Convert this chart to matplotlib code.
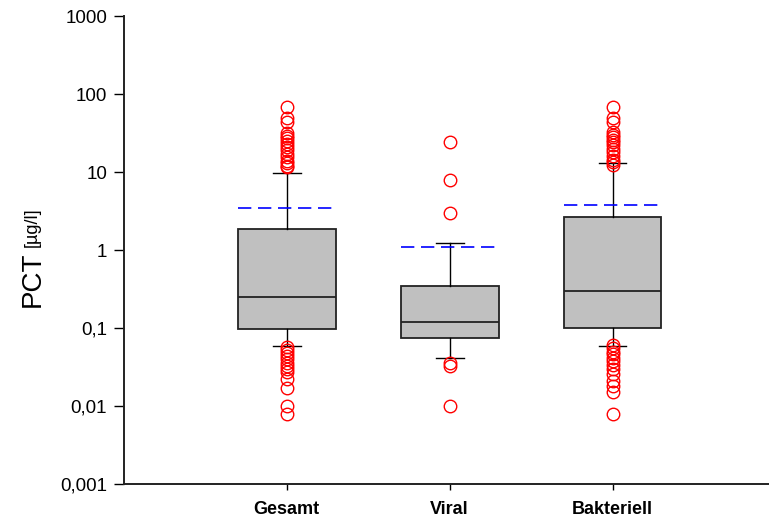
import numpy as np
import matplotlib
matplotlib.use('Agg')
import matplotlib.pyplot as plt

# box statistics (PCT in ug/l)
groups = ['Gesamt', 'Viral', 'Bakteriell']
q1 = [0.097, 0.075, 0.10]
median = [0.25, 0.12, 0.30]
q3 = [1.86, 0.345, 2.67]
whislo = [0.059, 0.041, 0.059]
whishi = [9.7, 1.25, 13.0]
means = [3.45, 1.09, 3.78]

fliers_gesamt = [68, 50, 44, 32, 29, 27, 25, 23, 21, 19, 17, 15.5, 14, 13, 12, 11.5,
                 0.057, 0.052, 0.048, 0.044, 0.040, 0.036, 0.033, 0.030, 0.027,
                 0.022, 0.017, 0.010, 0.008]
fliers_viral = [24, 8, 3, 0.036, 0.033, 0.010]
fliers_bakt = [68, 50, 44, 33, 30, 28, 26, 24, 22, 20, 18, 16, 14.5, 13.5, 12.5,
               0.060, 0.055, 0.050, 0.046, 0.042, 0.038, 0.034, 0.030, 0.026,
               0.021, 0.018, 0.015, 0.008]
fliers = [fliers_gesamt, fliers_viral, fliers_bakt]

yticks = [0.001, 0.01, 0.1, 1, 10, 100, 1000]
ytick_labels = ['0,001', '0,01', '0,1', '1', '10', '100', '1000']

plt.rcParams['font.family'] = ['Liberation Sans', 'DejaVu Sans']

stats = []
for i, g in enumerate(groups):
    stats.append(dict(label=g, q1=q1[i], med=median[i], q3=q3[i],
                      whislo=whislo[i], whishi=whishi[i], mean=means[i],
                      fliers=fliers[i]))

fig = plt.figure(figsize=(7.69, 5.2), dpi=100)
ax = fig.add_axes([0.161, 0.069, 0.839, 0.9])

ax.bxp(stats, positions=[1, 2, 3], widths=0.6, patch_artist=True,
       showmeans=True, meanline=True,
       boxprops=dict(facecolor='#c0c0c0', edgecolor='#222222', linewidth=1.3),
       medianprops=dict(color='#222222', linewidth=1.3),
       whiskerprops=dict(color='black', linewidth=1.0),
       capprops=dict(color='black', linewidth=1.0),
       capwidths=0.17,
       meanprops=dict(color='#0000ff', linestyle=(0, (8, 4)), linewidth=1.2),
       flierprops=dict(marker='o', markerfacecolor='none', markeredgecolor='red',
                       markersize=9, markeredgewidth=1.0))

ax.set_yscale('log')
ax.set_ylim(0.001, 1000)
ax.set_xlim(0, 3.96)
ax.set_yticks(yticks)
ax.set_yticklabels(ytick_labels)
ax.yaxis.set_minor_locator(matplotlib.ticker.NullLocator())
ax.set_xticks([1, 2, 3])
ax.set_xticklabels(groups, fontweight='bold', fontsize=13)
ax.tick_params(axis='y', labelsize=13.5, length=7, width=1.0, pad=5)
ax.tick_params(axis='x', length=4, width=1.0, pad=8)

for s in ['top', 'right']:
    ax.spines[s].set_visible(False)
for s in ['left', 'bottom']:
    ax.spines[s].set_linewidth(1.4)
    ax.spines[s].set_color('#222222')

fig.text(0.026, 0.41, 'PCT', rotation=90, fontsize=20, va='bottom', ha='left')
fig.text(0.031, 0.525, '[\u00b5g/l]', rotation=90, fontsize=13, va='bottom', ha='left')

fig.savefig('out.png', dpi=100)
